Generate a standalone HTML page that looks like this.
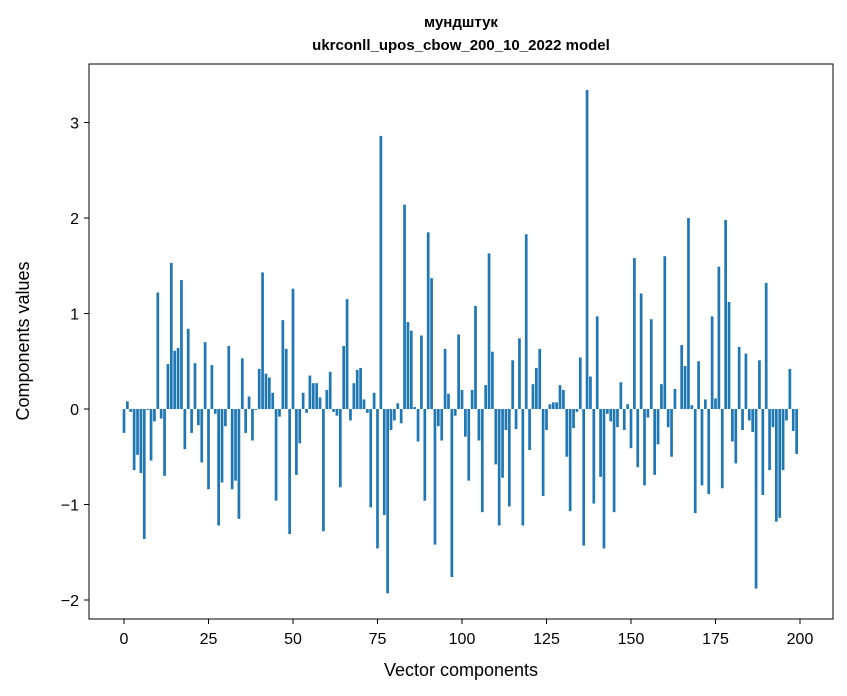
<!DOCTYPE html>
<html><head><meta charset="utf-8"><style>
body{margin:0;background:#fff;}
svg{display:block;font-family:"Liberation Sans","DejaVu Sans",sans-serif;}
</style></head><body>
<svg id="chart" width="847" height="696">
<text x="461" y="27" text-anchor="middle" font-size="15" font-weight="bold">мундштук</text>
<text x="461" y="50" text-anchor="middle" font-size="15" font-weight="bold">ukrconll_upos_cbow_200_10_2022 model</text>
<g id="bars"></g>
<g id="axes"></g>
<rect x="89" y="64" width="744" height="555" fill="none" stroke="#000" stroke-width="1"/>
<text x="461" y="676" text-anchor="middle" font-size="18">Vector components</text>
<text transform="translate(29,341) rotate(-90)" text-anchor="middle" font-size="18">Components values</text>
</svg>
<script>
const values=[-0.25,0.08,-0.03,-0.64,-0.48,-0.67,-1.36,-0.01,-0.54,-0.13,1.22,-0.1,-0.7,0.47,1.53,0.61,0.64,1.35,-0.42,0.84,
-0.25,0.48,-0.17,-0.56,0.7,-0.84,0.46,-0.05,-1.22,-0.77,-0.18,0.66,-0.84,-0.75,-1.15,0.53,-0.25,0.13,-0.33,-0.01,
0.42,1.43,0.37,0.33,0.17,-0.96,-0.08,0.93,0.63,-1.31,1.26,-0.69,-0.36,0.17,-0.04,0.35,0.27,0.27,0.12,-1.28,
0.2,0.39,-0.03,-0.07,-0.82,0.66,1.15,-0.12,0.27,0.41,0.43,0.1,-0.04,-1.03,0.17,-1.46,2.86,-1.11,-1.93,-0.22,
-0.12,0.06,-0.15,2.14,0.91,0.82,0.02,-0.34,0.77,-0.96,1.85,1.37,-1.42,-0.18,-0.33,0.63,0.16,-1.76,-0.07,0.78,
0.2,-0.29,-0.75,0.2,1.08,-0.33,-1.08,0.25,1.63,0.6,-0.58,-1.22,-0.72,-0.22,-1.02,0.51,-0.21,0.74,-1.22,1.83,
-0.43,0.26,0.43,0.63,-0.91,-0.22,0.05,0.07,0.07,0.25,0.2,-0.5,-1.07,-0.2,-0.03,0.54,-1.43,3.34,0.34,-0.99,
0.97,-0.71,-1.46,-0.05,-0.13,-1.08,-0.19,0.28,-0.22,0.05,-0.41,1.58,-0.61,1.21,-0.8,-0.09,0.94,-0.69,-0.37,0.26,
1.6,-0.19,-0.5,0.21,0.0,0.67,0.45,2.0,0.04,-1.09,0.5,-0.8,0.1,-0.89,0.97,0.11,1.49,-0.83,1.98,1.12,
-0.34,-0.57,0.65,-0.22,0.58,-0.12,-0.24,-1.88,0.51,-0.9,1.32,-0.64,-0.19,-1.18,-1.14,-0.64,-0.12,0.42,-0.23,-0.47];
const xTicks=[0,25,50,75,100,125,150,175,200];
const yTicks=[-2,-1,0,1,2,3];
const NS='http://www.w3.org/2000/svg';
function xs(v){return 124+v*3.38;}
function ys(v){return 409-v*95.5;}
const bars=document.getElementById('bars');
values.forEach((v,i)=>{
  const r=document.createElementNS(NS,'rect');
  const y0=ys(Math.max(v,0)),y1=ys(Math.min(v,0));
  r.setAttribute('x',xs(i-0.4));r.setAttribute('width',3.38*0.8);
  r.setAttribute('y',y0);r.setAttribute('height',Math.max(y1-y0,0.01));
  r.setAttribute('fill','#1f77b4');
  
  
  bars.appendChild(r);
});
const ax=document.getElementById('axes');
xTicks.forEach(t=>{
  const l=document.createElementNS(NS,'line');
  l.setAttribute('x1',xs(t));l.setAttribute('x2',xs(t));l.setAttribute('y1',619);l.setAttribute('y2',624);l.setAttribute('stroke','#000');
  
  
  ax.appendChild(l);
  const tx=document.createElementNS(NS,'text');
  tx.setAttribute('x',xs(t));tx.setAttribute('y',644);tx.setAttribute('text-anchor','middle');tx.setAttribute('font-size','16');
  tx.textContent=t;
  
  
  ax.appendChild(tx);
});
yTicks.forEach(t=>{
  const l=document.createElementNS(NS,'line');
  l.setAttribute('x1',84);l.setAttribute('x2',89);l.setAttribute('y1',ys(t));l.setAttribute('y2',ys(t));l.setAttribute('stroke','#000');
  
  
  ax.appendChild(l);
  const tx=document.createElementNS(NS,'text');
  tx.setAttribute('x',79);tx.setAttribute('y',ys(t)+6);tx.setAttribute('text-anchor','end');tx.setAttribute('font-size','16');
  tx.textContent=t<0?'\u2212'+Math.abs(t):String(t);
  
  
  ax.appendChild(tx);
});
</script>
</body></html>
